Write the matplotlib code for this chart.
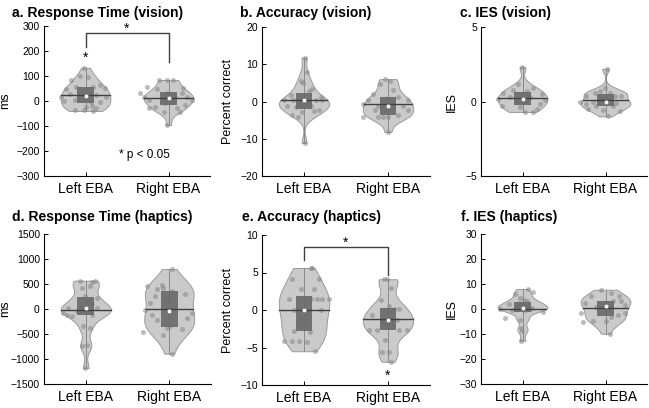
import matplotlib
matplotlib.use('Agg')
import matplotlib.pyplot as plt
import numpy as np

plt.rcParams['font.family'] = ['Liberation Sans', 'DejaVu Sans']

groups = ['Left EBA', 'Right EBA']

# (x offset, value) for every subject
a_left_x = [-0.02, -0.18, -0.07, 0.03, -0.23, -0.12, 0.09, 0.17, 0.23, -0.29, -0.19, -0.04, 0.13, 0.25, -0.26, -0.13, 0.07, 0.17, 0.08, 0.0, 0.13, -0.13, -0.02, 0.09]
a_left_y = [133, 84, 100, 95, 47, 57, 55, 64, 51, 17, 28, 31, 24, 17, 1, 4, -5, -3, -20, -23, -29, -36, -36, -40]
a_right_x = [-0.12, -0.02, 0.06, -0.26, -0.14, 0.18, -0.34, -0.02, 0.16, -0.3, 0.08, 0.22, -0.24, 0.28, -0.16, -0.24, 0.1, -0.06, 0.14, 0.2, -0.02, 0.03, -0.04, 0.02]
a_right_y = [84, 84, 84, 57, 47, 51, 33, 31, 33, 17, 17, 17, 4, 4, -23, -29, -29, -43, -43, -16, -96, 0, -8, 8]

b_left_x = [0.01, 0.04, -0.04, -0.01, 0.1, 0.06, -0.16, 0.2, -0.24, -0.13, 0.14, 0.22, -0.2, -0.1, 0.08, -0.02, 0.12, -0.14, -0.07, 0.18, 0.01, 0.03, -0.04]
b_left_y = [11.8, 7.8, 5.6, 4.9, 3.4, 2.9, 1.8, 1.2, 0.3, 0.4, 0.3, 0.3, -1.3, -1.5, -1.1, -2.7, -2.6, -3.6, -4.2, -2.4, -11.1, -0.5, -0.9]
b_right_x = [-0.04, 0.02, -0.1, 0.06, -0.18, 0.12, -0.24, -0.02, 0.24, -0.3, -0.12, 0.18, -0.16, 0.06, 0.24, -0.3, -0.12, -0.06, 0.0, 0.12, 0.0]
b_right_y = [6.0, 5.6, 4.7, 3.1, 2.0, 1.2, 0.3, 0.4, 0.3, -0.6, -1.3, -1.3, -2.4, -2.2, -2.4, -4.2, -4.2, -4.2, -4.2, -3.7, -8.2]

c_left_x = [-0.01, -0.06, -0.11, 0.13, -0.23, 0.05, 0.23, -0.29, -0.15, 0.09, 0.27, -0.25, -0.07, 0.03, 0.21, -0.03, 0.17, 0.13, 0.03]
c_left_y = [2.3, 1.2, 0.8, 0.9, 0.6, 0.7, 0.5, 0.2, 0.3, 0.3, 0.1, -0.3, 0.0, 0.0, -0.2, -0.4, -0.5, -0.7, -0.7]
c_right_x = [0.02, -0.01, -0.07, -0.13, 0.05, -0.23, 0.11, 0.19, -0.31, -0.15, 0.01, 0.13, -0.23, -0.11, -0.03, 0.09, 0.17, 0.03, -0.21]
c_right_y = [2.2, 0.9, 0.7, 0.6, 0.55, 0.4, 0.4, 0.4, 0.0, 0.0, 0.0, -0.1, -0.2, -0.3, -0.6, -0.3, -0.65, -1.0, -0.5]

d_left_x = [-0.07, 0.08, 0.05, 0.11, -0.05, -0.01, 0.13, 0.08, 0.13, -0.27, -0.23, -0.17, -0.11, -0.21, 0.07, -0.03, 0.05, -0.05, 0.02, -0.01, 0.03, -0.04, 0.02]
d_left_y = [567, 533, 467, 553, 420, 253, 220, 100, 20, -80, -113, -133, -47, 20, -113, -347, -380, -747, -713, -1180, 150, 60, -20]
d_right_x = [0.03, -0.09, -0.15, -0.07, -0.27, 0.03, 0.19, -0.17, -0.23, -0.29, -0.21, -0.15, 0.01, -0.03, 0.15, 0.21, 0.27, -0.31, -0.07, 0.03]
d_right_y = [800, 487, 400, 420, 453, 353, 300, 253, 120, -13, -113, -213, -347, -380, -400, -180, -80, -467, -513, -893]

e_left_x = [0.08, 0.1, -0.14, 0.18, -0.04, 0.12, -0.18, 0.08, 0.16, 0.22, 0.3, 0.2, -0.12, 0.07, -0.12, -0.24, -0.14, -0.06, 0.04, 0.13, 0.03, -0.03, 0.02, -0.05]
e_left_y = [5.6, 5.6, 4.2, 4.2, 2.8, 2.8, 1.5, 1.5, 1.5, 1.5, 1.5, 0.0, 0.0, -2.9, -2.8, -4.1, -4.1, -4.1, -4.2, -5.5, -0.5, -1.0, -1.5, -2.2]
e_right_x = [-0.05, -0.01, 0.04, -0.08, 0.01, 0.07, 0.13, -0.19, -0.07, -0.03, 0.05, 0.11, -0.23, -0.13, 0.13, 0.23, -0.03, -0.07, 0.01, 0.03]
e_right_y = [4.1, 4.1, 3.0, 1.4, 0.5, 0.2, 0.2, -0.7, -1.3, -1.3, -1.3, -1.3, -2.7, -2.7, -2.7, -2.7, -4.0, -5.6, -5.6, -6.9]

f_left_x = [0.07, 0.13, -0.09, -0.03, -0.16, 0.05, -0.07, 0.11, -0.13, 0.03, -0.27, 0.25, -0.21, -0.03, -0.02, -0.01, -0.02, 0.09, 0.03, -0.04, 0.02, 0.05]
f_left_y = [8.0, 6.7, 6.1, 4.4, 2.0, 3.1, 1.1, 0.4, -0.3, -0.3, 0.0, -1.3, -3.6, -4.3, -7.6, -8.9, -12.7, 0.0, 1.5, 2.5, 3.5, 0.8]
f_right_x = [-0.06, 0.07, -0.17, 0.16, 0.09, 0.19, -0.25, -0.01, 0.23, -0.29, 0.15, 0.07, -0.15, 0.01, -0.27, 0.23, 0.05, -0.11]
f_right_y = [7.7, 6.4, 5.1, 5.1, 3.3, 3.3, 2.4, 2.4, 1.7, -1.6, -2.3, -3.2, -4.9, -4.9, -5.3, -1.6, -9.9, 1.0]

panels = [
    ('a. Response Time (vision)', 'ms', (-300, 300), np.arange(-300, 301, 100),
     [(a_left_x, a_left_y), (a_right_x, a_right_y)]),
    ('b. Accuracy (vision)', 'Percent correct', (-20, 20), [-20, -10, 0, 10, 20],
     [(b_left_x, b_left_y), (b_right_x, b_right_y)]),
    ('c. IES (vision)', 'IES', (-5, 5), [-5, 0, 5],
     [(c_left_x, c_left_y), (c_right_x, c_right_y)]),
    ('d. Response Time (haptics)', 'ms', (-1500, 1500), np.arange(-1500, 1501, 500),
     [(d_left_x, d_left_y), (d_right_x, d_right_y)]),
    ('e. Accuracy (haptics)', 'Percent correct', (-10, 10), [-10, -5, 0, 5, 10],
     [(e_left_x, e_left_y), (e_right_x, e_right_y)]),
    ('f. IES (haptics)', 'IES', (-30, 30), np.arange(-30, 31, 10),
     [(f_left_x, f_left_y), (f_right_x, f_right_y)]),
]

W, H = 649, 408
fig = plt.figure(figsize=(W / 100, H / 100), dpi=100)

# axes boxes in pixels: left, right, top, bottom
boxes = [(44, 210, 26, 176), (262, 430, 27, 176), (481, 647, 27, 176),
         (44, 211, 234, 384), (262, 430, 235, 385), (481, 647, 234, 384)]
title_x = [12, 240, 460, 12, 242, 461]
ylab_x = [5, 228, 452, 5, 228, 452]


def kde(y, grid):
    y = np.asarray(y, float)
    n = len(y)
    sig = np.median(np.abs(y - np.median(y))) / 0.6745
    bw = 0.75 * sig * (4 / (3 * n)) ** 0.2
    z = (grid[:, None] - y[None, :]) / bw
    return np.exp(-0.5 * z ** 2).sum(axis=1)


axes = []
for i, (title, ylab, ylim, yticks, data) in enumerate(panels):
    l, r, t, b = boxes[i]
    ax = fig.add_axes([l / W, (H - b) / H, (r - l) / W, (b - t) / H])
    axes.append(ax)
    for k, (xo, yv) in enumerate(data):
        pos = k + 1
        yv = np.asarray(yv, float)
        grid = np.linspace(yv.min(), yv.max(), 200)
        dens = kde(yv, grid)
        dens = dens / dens.max() * 0.3
        ax.fill_betweenx(grid, pos - dens, pos + dens, facecolor='#cacaca',
                         edgecolor='#9a9a9a', linewidth=0.7, zorder=1)
        ax.scatter(pos + np.asarray(xo), yv, s=13, color='#868686', alpha=0.55,
                   linewidths=0, zorder=2)
        ax.plot([pos, pos], [yv.min(), yv.max()], color='#8a8a8a', lw=0.7, zorder=3)
        q1, med, q3 = np.percentile(yv, [25, 50, 75])
        ax.add_patch(plt.Rectangle((pos - 0.1, q1), 0.2, q3 - q1, facecolor='#6b6b6b',
                                   edgecolor='none', alpha=0.92, zorder=4))
        mu = yv.mean()
        hw = np.interp(mu, grid, dens)
        ax.plot([pos - hw, pos + hw], [mu, mu], color='#404040', lw=1.0, zorder=5)
        ax.plot(pos, med, 'o', ms=3, mfc='white', mec='#8a8a8a', mew=0.5, zorder=6)

    ax.set_xlim(0.5, 2.5)
    ax.set_ylim(*ylim)
    ax.set_yticks(yticks)
    ax.set_xticks([1, 2])
    ax.set_xticklabels(groups, fontsize=10)
    ax.tick_params(axis='y', labelsize=7.5, direction='in', length=3, width=0.7, pad=3)
    ax.tick_params(axis='x', direction='in', length=3, width=0.7, pad=4)
    for s in ['top', 'right']:
        ax.spines[s].set_visible(False)
    for s in ['left', 'bottom']:
        ax.spines[s].set_linewidth(0.8)
    fig.text(title_x[i] / W, 1 - 17 / H if i < 3 else 1 - 221 / H, title,
             fontsize=10, fontweight='bold', ha='left', va='baseline')
    fig.text(ylab_x[i] / W, 1 - ((t + b) / 2) / H, ylab, fontsize=9,
             rotation=90, ha='center', va='center')

# significance marks
ax = axes[0]
ax.plot([1, 1, 2, 2], [217, 271, 271, 157], color='#404040', lw=1.0, clip_on=False)
ax.text(1.5, 272, '*', ha='center', va='baseline', fontsize=10, clip_on=False)
ax.text(1, 156, '*', ha='center', va='baseline', fontsize=10)
ax.text(1.71, -215, '* p < 0.05', ha='center', va='center', fontsize=8.5)

ax = axes[4]
ax.plot([1, 1, 2, 2], [6.7, 8.4, 8.4, 4.7], color='#404040', lw=1.0)
ax.text(1.5, 8.4, '*', ha='center', va='baseline', fontsize=10)
ax.text(2, -9.33, '*', ha='center', va='baseline', fontsize=10)

fig.savefig('out.png', dpi=100)
